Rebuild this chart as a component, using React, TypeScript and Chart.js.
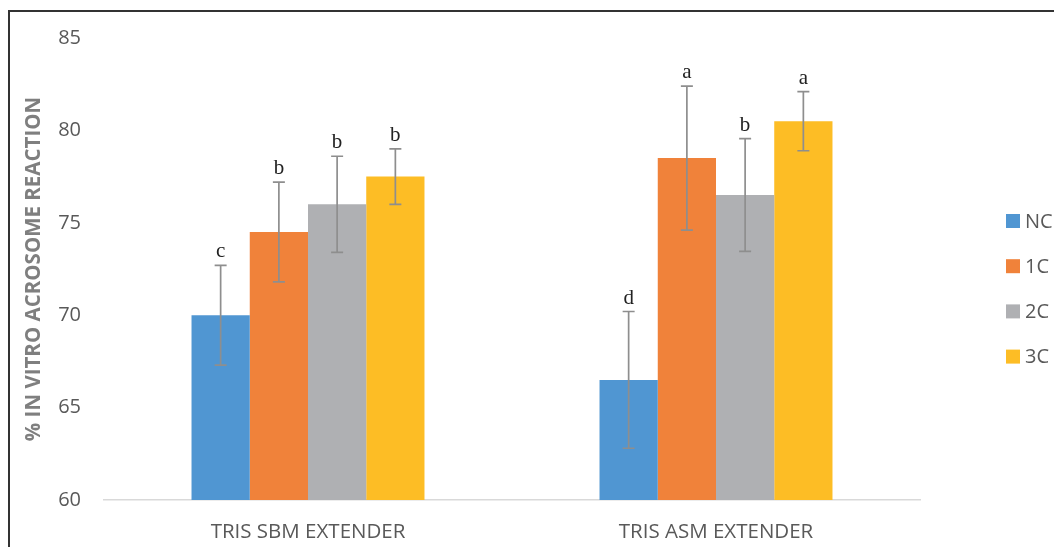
import React, { useEffect, useRef } from "react";
import { Chart, registerables } from "chart.js";

Chart.register(...registerables);

const categories = ["TRIS SBM EXTENDER", "TRIS ASM EXTENDER"];
const seriesNames = ["NC", "1C", "2C", "3C"];
const seriesColors = ["#5096D2", "#F0823A", "#AFB0B3", "#FDBD25"];
const ncValues = [70, 66.5];
const c1Values = [74.5, 78.5];
const c2Values = [76, 76.5];
const c3Values = [77.5, 80.5];
const ncErrors = [2.7, 3.7];
const c1Errors = [2.7, 3.9];
const c2Errors = [2.6, 3.05];
const c3Errors = [1.5, 1.6];
const ncLetters = ["c", "d"];
const c1Letters = ["b", "a"];
const c2Letters = ["b", "b"];
const c3Letters = ["b", "a"];
const yTicks = [60, 65, 70, 75, 80, 85];

const values = [ncValues, c1Values, c2Values, c3Values];
const errors = [ncErrors, c1Errors, c2Errors, c3Errors];
const letters = [ncLetters, c1Letters, c2Letters, c3Letters];

const FONT = "'Open Sans', 'Liberation Sans', sans-serif";

const errorBarPlugin = {
  id: "errorBars",
  afterDatasetsDraw(chart: any) {
    const ctx = chart.ctx;
    const y = chart.scales.y;
    ctx.save();
    chart.data.datasets.forEach((ds: any, i: number) => {
      const meta = chart.getDatasetMeta(i);
      meta.data.forEach((el: any, j: number) => {
        const v = values[i][j];
        const e = errors[i][j];
        const x = el.x;
        const yt = y.getPixelForValue(v + e);
        const yb = y.getPixelForValue(v - e);
        ctx.strokeStyle = "#8E8E8E";
        ctx.lineWidth = 1.7;
        ctx.beginPath();
        ctx.moveTo(x, yt);
        ctx.lineTo(x, yb);
        ctx.moveTo(x - 6, yt);
        ctx.lineTo(x + 6, yt);
        ctx.moveTo(x - 6, yb);
        ctx.lineTo(x + 6, yb);
        ctx.stroke();
        ctx.fillStyle = "#222222";
        ctx.font = "21px 'Liberation Serif', 'DejaVu Serif', serif";
        ctx.textAlign = "center";
        ctx.textBaseline = "alphabetic";
        ctx.fillText(letters[i][j], x, yt - 8);
      });
    });
    ctx.restore();
  },
};

const legendPlugin = {
  id: "customLegend",
  afterDraw(chart: any) {
    const ctx = chart.ctx;
    ctx.save();
    const startY = 209;
    const step = 45.2;
    chart.data.datasets.forEach((ds: any, i: number) => {
      const cy = startY + i * step;
      ctx.fillStyle = ds.backgroundColor;
      ctx.fillRect(996, cy - 7, 14, 14);
      ctx.fillStyle = "#595959";
      ctx.font = `20px ${FONT}`;
      ctx.textAlign = "left";
      ctx.textBaseline = "middle";
      ctx.fillText(ds.label, 1015, cy + 1);
    });
    ctx.restore();
  },
};

export default function App() {
  const ref = useRef<HTMLCanvasElement | null>(null);
  useEffect(() => {
    document.body.style.overflow = "hidden";
    document.body.style.margin = "8px 0 0 8px";
    if (!ref.current) return;
    const chart = new Chart(ref.current, {
      type: "bar",
      data: {
        labels: categories,
        datasets: seriesNames.map((name, i) => ({
          label: name,
          data: values[i],
          backgroundColor: seriesColors[i],
          borderWidth: 0,
          barPercentage: 1,
          categoryPercentage: 0.571,
        })),
      },
      options: {
        responsive: false,
        animation: false,
        layout: { padding: { left: 0, top: 26, right: 134, bottom: 0 } },
        plugins: {
          legend: { display: false },
          tooltip: { enabled: false },
        },
        scales: {
          x: {
            grid: { display: false, drawTicks: false },
            border: { display: true, color: "#D9D9D9", width: 1.5 },
            ticks: {
              color: "#595959",
              font: { family: FONT, size: 20.5 },
              padding: 20,
            },
            afterFit(scale: any) {
              scale.height = 47;
            },
          },
          y: {
            min: 60,
            max: 85,
            afterBuildTicks(scale: any) {
              scale.ticks = yTicks.map((v) => ({ value: v }));
            },
            grid: { display: false, drawTicks: false },
            border: { display: false },
            ticks: {
              color: "#595959",
              font: { family: FONT, size: 20 },
              padding: 23,
            },
            title: {
              display: true,
              text: "% IN VITRO ACROSOME REACTION",
              color: "#7F7F7F",
              font: { family: FONT, size: 20.5, weight: "bold" },
              padding: { top: 12, bottom: 0 },
            },
            afterFit(scale: any) {
              scale.width = 94;
              scale.paddingTop = 0;
              scale.paddingBottom = 0;
            },
          },
        },
      },
      plugins: [errorBarPlugin, legendPlugin],
    });
    return () => chart.destroy();
  }, []);
  return (
    <div
      style={{
        marginTop: 2,
        width: 1046,
        height: 537,
        borderLeft: "2px solid #333",
        borderTop: "2px solid #333",
        boxSizing: "border-box",
        overflow: "hidden",
      }}
    >
      <canvas ref={ref} width={1044} height={535} style={{ display: "block" }} />
    </div>
  );
}
